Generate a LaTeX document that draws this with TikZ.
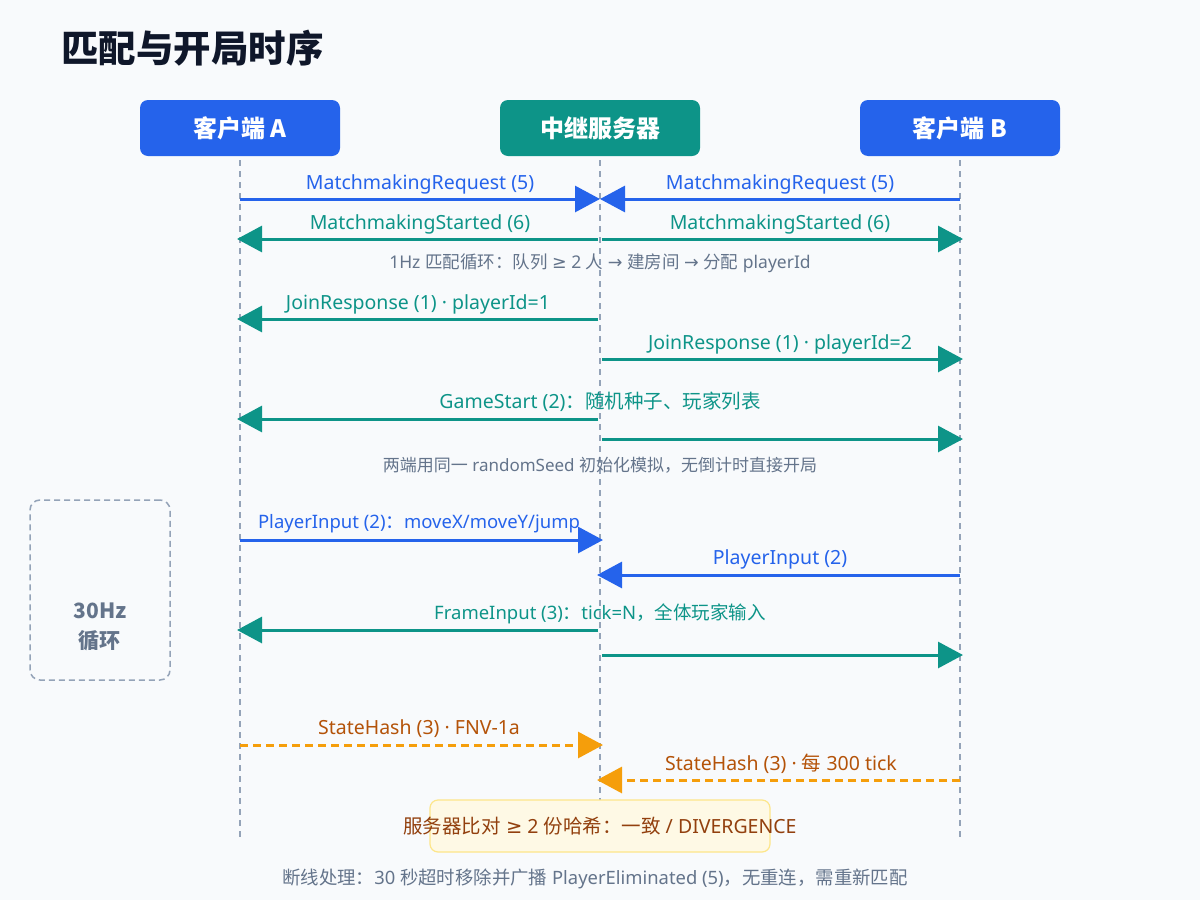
\documentclass[tikz,border=0pt]{standalone}
\usepackage{fontspec}
\setmainfont{Noto Sans}
\newfontfamily\cjkfont{Noto Sans CJK SC}
\newfontfamily\symfont{DejaVu Sans}
\newcommand\zhc[1]{{\cjkfont #1}}
\newcommand\symc[1]{{\symfont #1}}
\usetikzlibrary{arrows.meta}
\definecolor{cblue}{HTML}{2563EB}
\definecolor{cteal}{HTML}{0D9488}
\definecolor{corange}{HTML}{F59E0B}
\definecolor{corangetxt}{HTML}{B45309}
\definecolor{cbrown}{HTML}{92400E}
\definecolor{cgray}{HTML}{64748B}
\definecolor{cline}{HTML}{94A3B8}
\definecolor{ctitle}{HTML}{0F172A}
\definecolor{cbg}{HTML}{F8FAFC}
\definecolor{cnotefill}{HTML}{FEF9E5}
\definecolor{cnotedraw}{HTML}{FDE68A}
\tikzset{
  actor/.style={rounded corners=8pt, minimum width=200pt, minimum height=56pt, text=white,
    font=\cjkfont\fontsize{24}{26}\selectfont\bfseries, inner sep=0pt},
  life/.style={draw=cline, line width=1.5pt, dash pattern=on 6pt off 5pt},
  tip/.style={-{Triangle[length=25pt,width=26pt]}},
  msgblue/.style={draw=cblue, line width=3pt, tip},
  msgteal/.style={draw=cteal, line width=3pt, tip},
  msgorange/.style={draw=corange, line width=3pt, dash pattern=on 8pt off 5pt, tip},
  lbl/.style={font=\fontsize{19.5}{21}\selectfont, inner sep=0pt},
  lblsm/.style={font=\fontsize{18.5}{20}\selectfont, inner sep=0pt},
  note/.style={font=\fontsize{17.5}{19}\selectfont, inner sep=0pt, text=cgray},
}
\begin{document}
\begin{tikzpicture}[x=1pt,y=-1pt]
\fill[cbg] (0,0) rectangle (1200,900);
\useasboundingbox (0,0) rectangle (1200,900);

\node[anchor=west, inner sep=0pt, text=ctitle, font=\cjkfont\fontsize{37.5}{40}\selectfont\bfseries] (title) at (61,48) {匹配与开局时序};

\node[actor, fill=cblue] (A) at (240,128) {客户端 A};
\node[actor, fill=cteal] (S) at (600,128) {中继服务器};
\node[actor, fill=cblue] (B) at (960,128) {客户端 B};

\coordinate (Aend) at (240,837);
\coordinate (Send) at (600,837);
\coordinate (Bend) at (960,837);
\draw[life] ([yshift=-4pt]A.south) -- (Aend);
\draw[life] ([yshift=-4pt]S.south) -- (Send);
\draw[life] ([yshift=-4pt]B.south) -- (Bend);

% loop box
\node[draw=cline, line width=1.5pt, dash pattern=on 6pt off 4pt, rounded corners=10pt,
  minimum width=140pt, minimum height=180pt] (loop) at (100,590) {};
\node[text=cgray, font=\cjkfont\fontsize{21}{30}\selectfont\bfseries, align=center, inner sep=0pt] (looptxt) at (100,627) {30Hz\\循环};

% row 1
\coordinate (a1) at (240,199); \coordinate (s1) at (600,199); \coordinate (b1) at (960,199);
\draw[msgblue] (a1) -- (s1);
\draw[msgblue] (b1) -- (s1);
\node[lbl, text=cblue] (l1a) at (420,184) {MatchmakingRequest (5)};
\node[lbl, text=cblue] (l1b) at (780,184) {MatchmakingRequest (5)};

% row 2
\coordinate (a2) at (237,239); \coordinate (s2l) at (598,239); \coordinate (s2r) at (602,239); \coordinate (b2) at (963,239);
\draw[msgteal] (s2l) -- (a2);
\draw[msgteal] (s2r) -- (b2);
\node[lbl, text=cteal] (l2a) at (420,224) {MatchmakingStarted (6)};
\node[lbl, text=cteal] (l2b) at (780,224) {MatchmakingStarted (6)};

\node[note] (n1) at (600,263) {1Hz \zhc{匹配循环：队列} \symc{≥} 2 \zhc{人} \symc{→} \zhc{建房间} \symc{→} \zhc{分配} playerId};

% row 3
\coordinate (a3) at (237,319); \coordinate (s3) at (598,319);
\draw[msgteal] (s3) -- (a3);
\node[lbl, text=cteal] (l3) at (418,304) {JoinResponse (1) · playerId=1};

% row 4
\coordinate (s4) at (602,359); \coordinate (b4) at (963,359);
\draw[msgteal] (s4) -- (b4);
\node[lbl, text=cteal] (l4) at (780,344) {JoinResponse (1) · playerId=2};

% row 5
\coordinate (a5) at (237,419); \coordinate (s5l) at (598,419);
\coordinate (s5r) at (602,439); \coordinate (b5) at (963,439);
\draw[msgteal] (s5l) -- (a5);
\draw[msgteal] (s5r) -- (b5);
\node[lbl, text=cteal] (l5) at (600,402) {GameStart (2)\zhc{：随机种子、玩家列表}};

\node[note, font=\fontsize{17}{19}\selectfont] (n2) at (600,465) {\zhc{两端用同一} randomSeed \zhc{初始化模拟，无倒计时直接开局}};

% row 6
\coordinate (a6) at (240,540); \coordinate (s6) at (603,540);
\draw[msgblue] (a6) -- (s6);
\node[lblsm, text=cblue] (l6) at (419,524) {PlayerInput (2)\zhc{：}moveX/moveY/jump};

\coordinate (b7) at (960,575); \coordinate (s7) at (597,575);
\draw[msgblue] (b7) -- (s7);
\node[lbl, text=cblue] (l7) at (780,559) {PlayerInput (2)};

% row 8
\coordinate (a8) at (237,630); \coordinate (s8l) at (598,630);
\coordinate (s8r) at (602,655); \coordinate (b8) at (963,655);
\draw[msgteal] (s8l) -- (a8);
\draw[msgteal] (s8r) -- (b8);
\node[lblsm, text=cteal] (l8) at (600,614) {FrameInput (3)\zhc{：}tick=N\zhc{，全体玩家输入}};

% state hash
\coordinate (a9) at (240,745); \coordinate (s9) at (603,745);
\draw[msgorange] (a9) -- (s9);
\node[lbl, text=corangetxt] (l9) at (419,729) {StateHash (3) · FNV-1a};

\coordinate (b10) at (960,780); \coordinate (s10) at (597,780);
\draw[msgorange] (b10) -- (s10);
\node[lbl, text=corangetxt] (l10) at (781,764) {StateHash (3) · \zhc{每} 300 tick};

% note box
\node[fill=cnotefill, draw=cnotedraw, line width=1.2pt, rounded corners=8pt, minimum width=340pt, minimum height=52pt] (cmp) at (600,826) {};
\node[text=cbrown, font=\fontsize{19.5}{21}\selectfont, inner sep=0pt] (cmptxt) at (cmp.center) {\zhc{服务器比对} \symc{≥} 2 \zhc{份哈希：一致} / DIVERGENCE};

\node[note, font=\fontsize{18.4}{20}\selectfont] (foot) at (595,879) {\zhc{断线处理：}30 \zhc{秒超时移除并广播} PlayerEliminated (5)\zhc{，无重连，需重新匹配}};
\end{tikzpicture}
\end{document}
